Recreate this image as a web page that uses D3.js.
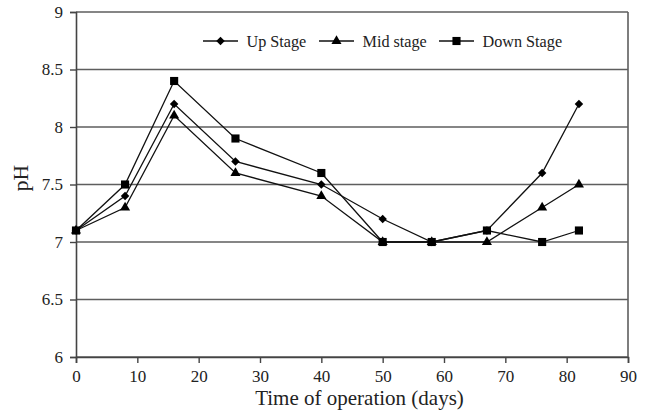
<!DOCTYPE html>
<html>
<head>
<meta charset="utf-8">
<script src="https://cdn.jsdelivr.net/npm/d3@7/dist/d3.min.js"></script>
<style>
  html, body { margin: 0; padding: 0; background: #fff; }
  svg { display: block; }
  svg text { font-family: "Liberation Serif", "Times New Roman", serif !important; fill: #222; }
</style>
</head>
<body>
<svg id="chart" width="650" height="416"></svg>
<script>
// Sampling days
const days = [0, 8, 16, 26, 40, 50, 58, 67, 76, 82];
// pH readings per stage
const upStage   = [7.1, 7.4, 8.2, 7.7, 7.5, 7.2, 7.0, 7.1, 7.6, 8.2];
const midStage  = [7.1, 7.3, 8.1, 7.6, 7.4, 7.0, 7.0, 7.0, 7.3, 7.5];
const downStage = [7.1, 7.5, 8.4, 7.9, 7.6, 7.0, 7.0, 7.1, 7.0, 7.1];
const seriesNames = ["Up Stage", "Mid stage", "Down Stage"];
const xTicks = [0, 10, 20, 30, 40, 50, 60, 70, 80, 90];
const yTicks = [6, 6.5, 7, 7.5, 8, 8.5, 9];

// square turned 45 degrees, drawn as a diamond
const diamond = {
  draw(ctx, size) {
    const r = Math.sqrt(size / 2);
    ctx.moveTo(0, -r); ctx.lineTo(r, 0); ctx.lineTo(0, r); ctx.lineTo(-r, 0); ctx.closePath();
  }
};

const series = [
  { name: seriesNames[0], values: upStage,   symbol: diamond,          size: 36 },
  { name: seriesNames[1], values: midStage,  symbol: d3.symbolTriangle, size: 44 },
  { name: seriesNames[2], values: downStage, symbol: d3.symbolSquare,   size: 66 }
];

const svg = d3.select("#chart");
const margin = { left: 76, right: 22, top: 12, bottom: 59 };
const W = 650, H = 416;

const x = d3.scaleLinear().domain([0, 90]).range([margin.left, W - margin.right]);
const y = d3.scaleLinear().domain([6, 9]).range([H - margin.bottom, margin.top]);

// horizontal gridlines
svg.append("g")
  .selectAll("line")
  .data(yTicks)
  .join("line")
  .attr("x1", x(0)).attr("x2", x(90))
  .attr("y1", d => y(d)).attr("y2", d => y(d))
  .attr("stroke", "#5e5e5e").attr("stroke-width", 1.6);

// right border of the plot area
svg.append("line")
  .attr("x1", x(90)).attr("x2", x(90))
  .attr("y1", y(9)).attr("y2", y(6))
  .attr("stroke", "#5e5e5e").attr("stroke-width", 1.6);

// y axis
const yAxis = svg.append("g")
  .attr("transform", `translate(${x(0)},0)`)
  .call(d3.axisLeft(y).tickValues(yTicks).tickSize(6).tickPadding(7).tickFormat(d => d3.format("")(d)));
// x axis
const xAxis = svg.append("g")
  .attr("transform", `translate(0,${y(6)})`)
  .call(d3.axisBottom(x).tickValues(xTicks).tickSize(6).tickPadding(7));

[yAxis, xAxis].forEach(a => {
  a.attr("font-family", null).attr("font-size", null);
  a.select(".domain").attr("stroke", "#444").attr("stroke-width", 1.6);
  a.selectAll(".tick line").attr("stroke", "#444").attr("stroke-width", 1.4);
  a.selectAll(".tick text")
    .style("font-size", "17px").attr("fill", "#222");
});

// axis titles
svg.append("text")
  .attr("x", 359.5).attr("y", 405)
  .attr("text-anchor", "middle")
  .style("font-size", "21px")
  .text("Time of operation (days)");
svg.append("text")
  .attr("transform", `translate(28,178) rotate(-90)`)
  .attr("text-anchor", "middle")
  .style("font-size", "21.5px")
  .text("pH");

// series lines and markers
const line = d3.line().x((d, i) => x(days[i])).y(d => y(d));
series.forEach(s => {
  svg.append("path")
    .datum(s.values)
    .attr("d", line)
    .attr("fill", "none")
    .attr("stroke", "#111")
    .attr("stroke-width", 1.3);
  svg.append("g")
    .selectAll("path")
    .data(s.values)
    .join("path")
    .attr("transform", (d, i) => `translate(${x(days[i])},${y(d)})`)
    .attr("d", d3.symbol().type(s.symbol).size(s.size))
    .attr("fill", "#000");
});

// legend
const legendX = [203, 319, 439];
series.forEach((s, i) => {
  const g = svg.append("g").attr("transform", `translate(${legendX[i]},41)`);
  g.append("line").attr("x1", 0).attr("x2", 35).attr("y1", 0).attr("y2", 0)
    .attr("stroke", "#111").attr("stroke-width", 1.3);
  g.append("path").attr("transform", "translate(17.5,0)")
    .attr("d", d3.symbol().type(s.symbol).size(s.size)).attr("fill", "#000");
  g.append("text").attr("x", 43.5).attr("y", 5.5)
    .style("font-size", "16.2px").text(s.name);
});
</script>
</body>
</html>
